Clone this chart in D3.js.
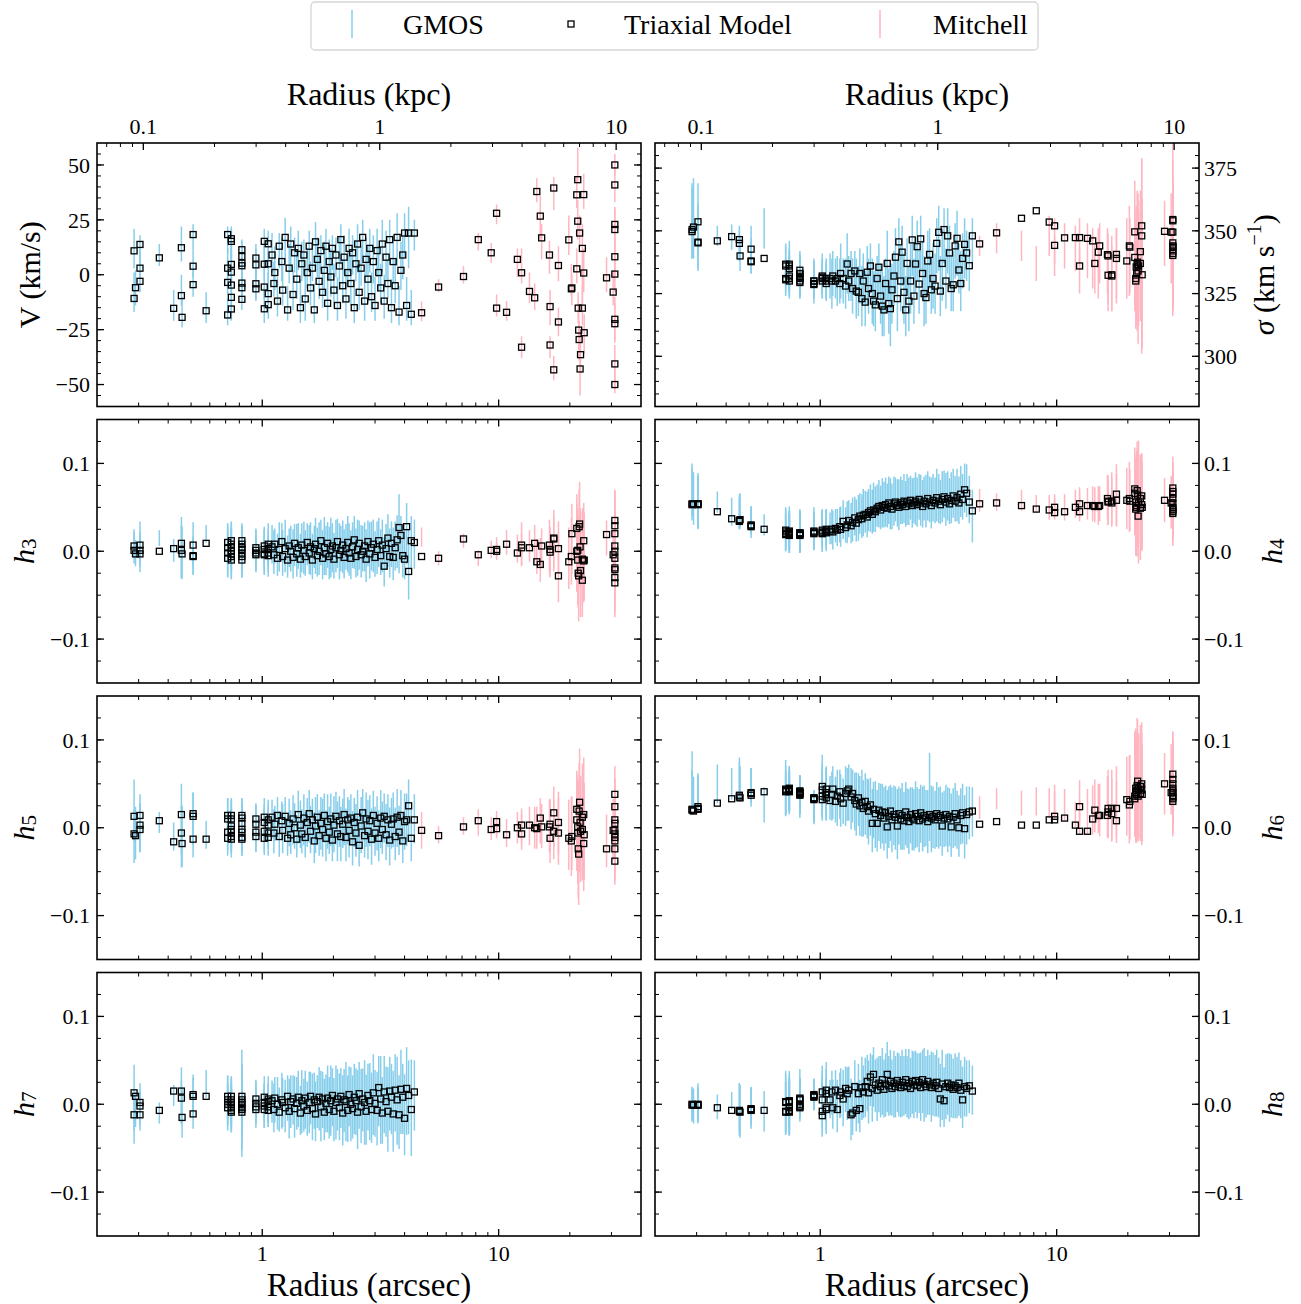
<!DOCTYPE html>
<html>
<head>
<meta charset="utf-8">
<script src="https://cdn.jsdelivr.net/npm/d3@7"></script>
<style>
  body { margin: 0; background: #fff; }
  svg text { font-family: "Liberation Serif", "DejaVu Serif", serif; fill: #000; }
</style>
</head>
<body>
<div id="chart"></div>
<script>
// ---- radii of the bins (arcsec) ----
const gmosR = [0.287,0.287,0.291,0.304,0.304,0.304,0.367,0.422,0.455,0.455,0.458,0.51,0.51,0.51,0.579,0.714,0.714,0.714,0.714,0.74,0.74,0.74,0.74,0.74,0.74,0.74,0.82,0.82,0.82,0.82,0.82,0.82,0.82,0.94,0.94,0.94,0.94,1.02,1.02,1.02,1.02,1.06,1.06,1.06,1.06,
  1.10,1.12,1.13,1.16,1.18,1.21,1.22,1.25,1.28,1.30,1.32,1.35,1.37,1.40,1.42,1.45,1.47,1.50,1.52,1.55,1.58,1.60,1.63,1.66,1.68,1.71,1.74,1.77,1.80,1.83,1.86,1.89,1.92,1.95,1.98,2.01,2.05,2.08,2.12,2.15,2.19,2.22,2.26,2.30,2.33,2.37,2.41,2.45,2.49,2.53,2.57,2.62,2.66,2.71,2.75,2.80,2.85,2.90,2.95,3.00,3.06,3.11,3.17,3.22,3.28,3.34,3.40,3.46,3.52,3.58,3.65,3.72,3.79,3.86,3.93,4.00,4.08,4.16,4.27,4.40];
const mitR = [4.72,5.57,7.1,8.2,9.3,9.8,9.8,10.8,12.0,12.5,12.5,13.5,14.2,14.5,15.0,15.2,16.4,16.5,16.5,17.1,17.1,17.9,17.9,19.8,20.3,20.4,21.4,21.4,21.6,21.6,21.7,21.8,21.9,22.0,22.1,22.2,22.6,22.6,22.9,22.9,23.0,28.6,30.5,31,31,31,31,31,31,31,31,31,31];

// ---- V (km/s) ----
const gmosVmod = [10.9,-10.8,-5.9,13.8,3.0,-3.0,7.7,-15.3,12.3,-9.5,-19.4,18.3,3.9,-4.5,-16.4,18.3,3.0,-3.5,-18.3,16.4,15.2,4.7,1.2,-4.7,-10.3,-15.6,11.4,8.3,5.3,4.1,-3.8,-5.9,-11.2,7.6,4.5,-4.1,-6.4,15.2,4.8,-5.6,-15.5,14.1,5.0,-8.6,-13.6,
  9,-4,1,-12,13,6,-7,17,-16,3, 14,-9,10,-2,12,-15,5,9,-11,1, 13,-6,3,-16,15,7,-3,11,-8,2, 13,-13,6,-1,12,-7,9,-14,4,16, -5,8,-11,1,12,-4,10,-15,5,14, -8,3,17,-12,7,-2,12,-10,6,-14, 11,1,-6,14,-12,8,-4,16,-15,6, -5,17,-17,2,9,19,-14,19,-18,19];
const gmosVobs = [12,-8,-6,11,5,-1,9,-14,14,-7,-17,17,5,-4,-15,16,4,-2,-17,15,14,5,3,-3,-9,-14,10,9,6,3,-2,-6,-10,6,5,-3,-5,13,6,-4,-14,12,4,-7,-12,
  10,-2,3,-10,11,7,-5,15,-13,5, 12,-7,9,0,11,-12,6,8,-9,3, 11,-4,5,-13,13,8,-1,10,-6,3, 12,-11,7,1,10,-5,8,-11,5,14, -3,9,-9,3,11,-2,9,-12,6,12, -6,4,15,-10,8,0,11,-8,7,-11, 10,3,-4,13,-10,9,-2,15,-12,7, -3,16,-14,4,8,18,-11,17,-15,18];
const gmosVerr = [9,9,8,7,7,7,5,7,8,7,7,6,6,6,7,6,8,7,6,7,7,8,8,7,7,7,6,6,7,7,7,6,6,8,7,8,7,8,8,7,8,8,8,8,8,
  9,8,10,9,8,10,9,11,8,9, 10,9,8,11,9,10,9,8,12,9, 9,10,8,9,11,9,10,8,9,12, 9,10,9,11,8,10,9,10,12,9, 10,9,11,8,10,12,9,10,9,11, 10,9,10,11,9,13,10,9,11,10, 11,10,9,12,10,11,9,10,10,11, 10,12,9,11,10,10,10,14,8,7];
const mitVmod = [-17.3,-5.6,-0.8,16,10,28,-15.2,-17.1,7,0.9,-33,-7.6,-10.5,37.9,26.7,16.8,9,-14.5,-32,39.5,-43.3,4.2,-21.5,15.9,-6.4,-6.0,36.4,2.7,43.3,24.4,-15.2,-25.2,-29.5,19,-42.9,-36.4,12,-15.2,36.5,0.8,-26.4,-1.4,-7.9,50,40.9,22.9,20.6,8.2,0.3,-20.3,-22.3,-40.6,-50];
const mitVobs = [-16.7,-5,0,15,10,27.5,-14,-16.5,5.5,4,-33,-6,-10,38.5,26,15,8,-15,-33,37,-42.5,5,-21.5,18,-2.5,-7,37.5,4,50,25,-15,-25,-30,20,-40,-35,4,-14,38,2,-27,0,-6,50,41,22,20,8,2,-20,-22,-42,-48];
const mitVerr = [4.5,3,4,4,4.5,4.5,5,4.5,6.5,8,5,7,6,5.5,10,8,7.5,8,5,7.5,5.5,8,6.5,9,7.5,7,7,8,8,9,7,9,9,7,15,10,19,9,8,10,9,8,8,5,8,9,10,9,10,10,9,10,6];

// ---- sigma (km/s) ----
const gmosSmod = [349.7,350.5,351.5,353.6,345.2,345.5,346,347.7,346.5,345,340,342.7,337.7,338,339,336.7,331,336,330.5,336.7,336,335,332,331,330,331,334.3,332.9,331.5,329.4,330,331,333,330,328.6,329,330,332,331,330,331.5,331,330,331,329,
  331,330,332,330,331,329,333,331,328,336.8, 330,333,327,334,326,325.5,333,323,330,321.6, 333.5,327,336,325,322,320.5,331,335.5,324,320, 318.5,329,337,321,319,326.5,332,339.5,323,345.6, 330,341.5,325.5,318.5,337,322,330,346.4,324,336.8, 343.7,328.8,346.8,333,325,323.4,338,340.6,326.5,331, 328,345,349.4,326,337,350.5,330,348,341.2,327, 328.5,344,347,334.4,329,339,344.6,341.2,336.1,348];
const gmosSobs = [354,353,355,355,348,346,348,347.5,345,344,341,344,340,339,351,336,332,337,331,337,335,334,333,332,330,332,333,332,332,330,331,332,334,331,329,330,331,333,330,331,332,331,330,330,330,
  332,329,333,331,330,330,334,330,329,337, 331,332,328,333,327,326,332,324,331,323, 332,328,335,326,323,322,330,334,325,321, 320,328,336,322,320,325,331,338,324,343, 331,340,327,320,336,323,331,344,326,336, 342,330,345,334,326,325,337,339,328,332, 329,344,347,328,336,348,331,346,340,329, 330,342,345,335,330,338,343,340,337,346];
const gmosSerr = [15,14,16,14,13,12,4,5,7,6,7,8,7,6,8,8,7,8,7,9,8,8,7,8,7,8,8,7,8,7,8,7,8,7,8,7,8,8,7,8,7,8,7,8,7,
  9,10,9,8,10,9,11,9,10,12, 9,10,11,9,12,10,11,12,10,11, 12,11,10,13,11,12,10,11,12,13, 12,11,14,13,16,12,11,13,14,12, 13,12,14,12,11,13,14,12,13,11, 12,13,11,12,14,12,13,12,11,13, 12,11,13,12,14,11,12,13,12,11, 12,11,13,10,12,11,12,10,11,9];
const mitSmod = [344.8,349.2,355,358,353.5,352,344.2,347.2,347.3,347.3,336,347,346,337,341.5,344,340.5,340,332.3,332.5,332,340.6,339,338,344,343.5,349.6,339.4,331,330,335.6,333,336.5,337.5,334,336,341.7,337,352,348,332.5,349.8,349.5,354,354.5,349.5,345.2,343.5,344,342,340.2,341,343.5];
const mitSobs = [344,347,344,337,348,346,340,344,343,345,334,342,339,335,337,341,338,335,330,333,331,336,337,339,342,340,345,338,333,331,336,334,338,336,335,337,340,338,345,340,333,349,347,352,348,345,343,341,344,340,342,339,348];
const mitSerr = [4,6,6,7,8,9,8,9,9,10,9,11,12,10,14,12,13,14,12,15,13,15,14,16,18,15,25,20,22,18,24,20,28,22,30,25,26,20,33,39,30,13,18,33,20,25,18,22,28,20,24,19,30];

// ---- h3 ----
const gmosH3mod = [.006,.001,-.003,.007,.001,-.003,0,.003,.009,.001,-.003,.007,-.005,-.006,.009,.01,.004,-.002,-.008,.012,.008,.004,0,-.003,-.006,-.01,.012,.008,.004,.002,-.002,-.006,-.01,.004,.001,-.002,-.004,.006,.002,-.003,-.004,.008,.003,-.002,-.005,
  .005,-.004,.008,-.008,.002,.011,-.006,.003,-.01,.006, 0,-.007,.009,-.003,.004,-.009,.007,.001,-.006,.01, -.002,.005,-.01,.003,.008,-.005,0,.012,-.008,.004, -.003,.009,-.006,.002,.006,-.009,.004,.011,-.004,.001, .007,-.007,.003,.01,-.002,-.008,.005,.013,-.006,.002, .009,-.004,0,.006,-.009,.011,-.003,.004,.008,-.007, .002,.012,-.005,.007,-.017,.003,.015,-.006,.009,-.007, .004,.013,.027,.018,-.005,-.009,.028,-.023,.012,.01];
const gmosH3obs = [.01,.004,-.002,.012,.002,-.004,.015,.001,.004,0,-.002,.008,-.005,-.006,.02,.012,.006,-.003,-.01,.014,.01,.006,.002,-.002,-.008,-.012,.014,.01,.006,.003,-.004,-.008,-.012,.006,.002,-.003,-.006,.008,.004,-.002,-.006,.01,.005,-.003,-.007,
  .008,-.001,.006,-.004,.005,.01,-.002,.006,-.006,.004, .003,-.003,.007,.001,.006,-.005,.004,.004,-.002,.008, .002,.003,-.006,.005,.006,-.001,.003,.01,-.004,.006, .001,.007,-.002,.004,.004,-.005,.006,.009,0,.003, .005,-.003,.005,.008,.002,-.004,.007,.01,-.002,.004, .007,0,.003,.005,-.005,.009,.001,.006,.006,-.003, .004,.01,-.001,.006,-.012,.005,.012,-.002,.008,-.003, .006,.011,.02,.014,0,-.004,.02,-.015,.01,.008];
const gmosH3err = [.015,.018,.015,.022,.02,.02,.009,.013,.035,.03,.03,.025,.022,.02,.01,.02,.022,.025,.02,.02,.022,.02,.025,.02,.022,.02,.018,.02,.022,.02,.02,.022,.018,.02,.022,.02,.018,.02,.022,.025,.02,.022,.02,.02,.022,
  .022,.025,.02,.024,.028,.022,.026,.03,.024,.022, .026,.028,.024,.03,.026,.025,.028,.03,.026,.024, .028,.03,.026,.024,.032,.028,.03,.026,.028,.033, .028,.026,.03,.034,.028,.026,.03,.028,.032,.026, .03,.028,.026,.032,.03,.028,.026,.03,.028,.032, .028,.03,.026,.028,.03,.026,.032,.028,.03,.026, .03,.028,.026,.03,.028,.026,.03,.028,.026,.03, .028,.03,.045,.026,.03,.028,.035,.04,.03,.028];
const mitH3mod = [-.006,-.008,.014,-.004,.001,0,.002,.008,-.002,.007,.004,.004,.009,-.012,-.015,.006,.007,.002,-.001,.014,.015,-.028,.003,-.012,-.006,.02,.026,0,.001,-.01,-.025,-.028,.028,.031,.005,-.022,-.033,-.009,-.011,.012,-.01,.019,-.004,.035,.029,.02,.006,0,-.008,-.019,-.021,-.03,-.036];
const mitH3obs = [.016,-.008,.012,-.008,.002,.004,0,.01,.003,.008,.002,.006,.008,-.006,-.01,.004,.006,0,-.004,.012,.01,-.018,.004,-.008,0,.014,.02,.004,0,-.006,-.015,-.02,.02,.024,.004,-.015,-.025,-.006,-.008,.01,-.006,.015,-.002,.03,.024,.016,.006,0,-.006,-.016,-.018,-.025,-.03];
const mitH3err = [.011,.008,.008,.009,.01,.012,.01,.014,.016,.025,.018,.018,.022,.02,.025,.022,.03,.028,.026,.035,.03,.04,.03,.035,.038,.04,.045,.05,.04,.055,.05,.06,.05,.055,.045,.06,.05,.055,.05,.045,.05,.02,.025,.04,.045,.05,.04,.045,.05,.04,.045,.05,.04];

// ---- h4 ----
const gmosH4mod = [.054,.053,.054,.054,.053,.054,.045,.037,.035,.034,.036,.029,.028,.03,.025,.024,.022,.02,.019,.023,.021,.02,.019,.018,.02,.022,.021,.02,.019,.018,.02,.021,.019,.022,.021,.023,.02,.022,.021,.024,.02,.023,.021,.022,.025,
  .023,.025,.022,.026,.024,.028,.025,.034,.027,.03, .035,.029,.033,.038,.032,.036,.04,.037,.041,.042, .039,.044,.046,.042,.047,.045,.049,.051,.047,.052, .05,.053,.049,.055,.051,.048,.054,.056,.052,.05, .055,.053,.057,.051,.056,.054,.058,.052,.055,.057, .053,.059,.055,.051,.057,.054,.06,.056,.052,.058, .055,.061,.057,.053,.059,.062,.056,.06,.054,.058, .063,.057,.061,.055,.065,.059,.07,.066,.056,.046];
const gmosH4obs = [.07,.065,.06,.058,.056,.055,.056,.045,.045,.043,.046,.035,.033,.036,.03,.028,.025,.022,.02,.026,.024,.022,.021,.02,.022,.025,.024,.022,.021,.02,.023,.024,.022,.025,.023,.026,.022,.026,.023,.027,.022,.026,.024,.025,.028,
  .026,.028,.024,.029,.027,.03,.028,.036,.03,.033, .037,.032,.036,.04,.035,.038,.043,.04,.044,.045, .042,.047,.049,.045,.05,.048,.052,.054,.05,.055, .053,.056,.052,.058,.054,.051,.057,.059,.055,.053, .058,.056,.06,.054,.059,.057,.061,.055,.058,.06, .056,.062,.058,.054,.06,.057,.063,.059,.055,.061, .058,.064,.06,.056,.062,.065,.059,.063,.057,.061, .066,.06,.064,.058,.068,.062,.072,.069,.059,.04];
const gmosH4err = [.03,.03,.03,.031,.03,.03,.012,.016,.02,.018,.02,.016,.018,.015,.012,.022,.024,.022,.02,.025,.022,.024,.02,.022,.024,.02,.022,.024,.02,.022,.02,.024,.022,.02,.022,.024,.02,.022,.024,.02,.022,.02,.024,.022,.02,
  .018,.02,.022,.019,.021,.02,.023,.022,.02,.024, .021,.023,.025,.022,.024,.026,.023,.025,.027,.024, .026,.024,.027,.025,.028,.026,.024,.027,.025,.028, .026,.028,.025,.027,.029,.026,.028,.025,.027,.029, .027,.025,.028,.026,.029,.027,.025,.028,.026,.03, .028,.026,.029,.027,.025,.03,.028,.026,.029,.027, .026,.03,.028,.025,.029,.027,.03,.028,.026,.029, .028,.026,.03,.027,.029,.026,.028,.03,.027,.03];
const mitH4mod = [.054,.055,.052,.048,.047,.05,.044,.045,.05,.054,.045,.052,.052,.051,.051,.052,.06,.057,.056,.057,.055,.065,.058,.058,.06,.057,.066,.071,.056,.048,.05,.052,.069,.064,.04,.055,.06,.049,.063,.053,.05,.058,.055,.072,.068,.065,.06,.055,.05,.047,.045,.043,.048];
const mitH4obs = [.058,.056,.058,.054,.05,.052,.048,.05,.054,.055,.05,.054,.054,.053,.052,.054,.062,.058,.056,.06,.056,.064,.058,.06,.062,.058,.066,.068,.058,.05,.052,.054,.065,.062,.045,.056,.06,.05,.062,.055,.052,.058,.056,.068,.064,.062,.058,.055,.052,.05,.048,.046,.05];
const mitH4err = [.013,.01,.012,.01,.014,.013,.012,.015,.016,.018,.016,.018,.02,.02,.022,.02,.025,.028,.026,.03,.028,.035,.03,.035,.04,.035,.045,.05,.04,.055,.05,.06,.06,.055,.05,.07,.05,.06,.05,.055,.05,.025,.03,.04,.035,.04,.035,.04,.035,.04,.035,.04,.035];

// ---- h5 ----
const gmosH5mod = [.013,-.007,-.009,.014,.003,-.002,.008,-.016,.015,-.006,-.018,.016,.013,-.013,-.013,.014,.01,-.005,-.012,.014,.01,.002,-.002,-.005,-.01,-.013,.014,.011,.005,-.002,-.005,-.011,-.013,.01,.004,-.005,-.01,.012,.006,-.004,-.012,.009,.003,-.006,-.011,
  .012,-.006,.004,.014,-.01,.008,-.003,.013,-.012,.005, -.008,.01,0,-.013,.015,.003,-.007,.011,-.011,.006, .016,-.004,.009,-.015,.002,.012,-.009,.005,-.002,.014, -.012,.007,-.005,.01,-.014,.003,.013,-.007,.008,-.01, .004,.015,-.011,.009,-.003,.011,-.016,.006,-.006,.012, -.02,.002,.017,-.009,.01,-.004,.008,-.013,.014,-.006, .005,-.012,.011,-.002,.013,-.008,.009,-.014,.004,.01, -.01,.012,-.005,.014,-.015,.007,.009,.025,-.012,.009];
const gmosH5obs = [.02,-.01,-.006,.008,0,0,.006,-.01,.01,-.01,-.01,.012,.01,-.008,-.008,.012,.008,-.003,-.008,.012,.008,.004,0,-.004,-.007,-.01,.012,.009,.006,0,-.004,-.008,-.01,.008,.004,-.003,-.008,.01,.005,-.003,-.009,.008,.004,-.004,-.008,
  .01,-.004,.005,.011,-.007,.008,-.001,.01,-.009,.006, -.005,.009,.002,-.01,.012,.004,-.004,.009,-.008,.006, .013,-.002,.008,-.011,.003,.01,-.006,.005,0,.011, -.009,.007,-.003,.009,-.01,.004,.011,-.004,.007,-.007, .005,.012,-.008,.008,-.001,.009,-.012,.006,-.003,.01, -.015,.003,.014,-.006,.009,-.002,.008,-.01,.012,-.004, .005,-.009,.01,0,.011,-.005,.008,-.01,.005,.009, -.007,.011,-.003,.012,-.011,.007,.009,.02,-.008,.01];
const gmosH5err = [.035,.03,.03,.03,.028,.028,.012,.016,.04,.035,.035,.028,.03,.026,.016,.022,.025,.022,.024,.022,.024,.026,.022,.025,.022,.024,.022,.024,.022,.025,.022,.024,.022,.02,.022,.024,.02,.024,.022,.025,.022,.024,.022,.02,.024,
  .022,.025,.02,.024,.026,.022,.028,.025,.023,.027, .025,.028,.026,.024,.03,.027,.025,.029,.026,.028, .03,.027,.025,.029,.032,.028,.026,.03,.033,.028, .029,.031,.027,.03,.028,.032,.03,.034,.029,.031, .028,.032,.03,.027,.033,.029,.031,.028,.03,.033, .029,.032,.03,.028,.031,.034,.029,.032,.03,.028, .031,.029,.033,.03,.028,.032,.03,.033,.029,.031, .03,.033,.028,.031,.029,.032,.03,.035,.03,.028];
const mitH5mod = [-.003,-.009,.001,.008,-.002,-.001,.007,-.008,0,.003,-.007,.003,0,-.001,.011,.001,.001,-.012,.004,.017,-.004,-.006,.006,-.012,-.015,-.01,.021,.009,.001,-.006,-.024,-.03,.019,.029,.006,-.004,.012,-.002,.015,-.018,-.008,-.024,-.003,.038,.024,.009,.005,-.003,-.007,-.011,-.015,-.024,-.038];
const mitH5obs = [-.003,-.008,.002,.006,-.001,0,.005,-.006,0,.002,-.005,.002,0,0,.008,.002,.002,-.008,.003,.012,-.002,-.004,.005,-.008,-.01,-.006,.015,.006,0,-.004,-.015,-.018,.014,.02,.004,-.002,.008,0,.01,-.012,-.004,-.015,-.002,.025,.016,.006,.003,-.002,-.004,-.007,-.01,-.016,-.025];
const mitH5err = [.021,.01,.01,.015,.013,.012,.014,.016,.018,.02,.02,.022,.024,.024,.026,.025,.03,.032,.03,.035,.034,.038,.036,.04,.045,.042,.05,.055,.05,.06,.065,.07,.06,.07,.055,.06,.065,.06,.07,.06,.055,.03,.035,.045,.04,.05,.045,.04,.045,.05,.04,.045,.04];

// ---- h6 ----
const gmosH6mod = [.02,.021,.019,.024,.022,.021,.028,.033,.035,.037,.034,.039,.04,.037,.041,.043,.044,.042,.041,.043,.045,.042,.041,.044,.043,.042,.04,.042,.039,.037,.041,.04,.038,.033,.034,.032,.034,.047,.043,.032,.036,.044,.038,.034,.04,
  .031,.038,.044,.03,.036,.041,.033,.028,.039,.042, .044,.035,.039,.031,.027,.034,.025,.029,.022,.03, .024,.019,.026,.005,.021,.016,.005,.02,.014,.018, .011,.017,.001,.013,.019,.009,.015,.012,.002,.016, .01,.014,.008,.018,.012,.007,.015,.011,.009,.016, .013,.008,.017,.01,.014,.012,.007,.015,.011,.013, .009,.016,.012,.014,.002,.011,.015,.01,.013,.001, .012,.016,.009,0,.014,.017,-.001,.015,.018,.019];
const gmosH6obs = [.054,.045,.04,.042,.04,.038,.05,.05,.055,.052,.05,.048,.046,.05,.026,.045,.042,.04,.038,.046,.044,.042,.04,.038,.043,.041,.04,.038,.036,.035,.038,.037,.036,.022,.025,.02,.024,.048,.045,.036,.04,.042,.038,.035,.04,
  .034,.036,.04,.032,.034,.038,.031,.03,.036,.038, .04,.033,.036,.03,.027,.032,.025,.028,.022,.027, .022,.018,.024,.008,.02,.015,.008,.018,.013,.016, .01,.015,.004,.012,.017,.009,.014,.011,.004,.014, .01,.013,.008,.016,.011,.007,.014,.01,.009,.015, .012,.008,.016,.01,.013,.011,.007,.035,.01,.012, .009,.015,.011,.013,.004,.01,.014,.009,.012,.003, .011,.015,.009,.002,.013,.016,.001,.014,.017,.018];
const gmosH6err = [.033,.02,.018,.02,.02,.018,.022,.018,.025,.022,.02,.02,.022,.018,.02,.032,.028,.025,.022,.024,.026,.022,.025,.02,.024,.022,.02,.022,.02,.024,.02,.022,.02,.015,.018,.016,.018,.035,.03,.028,.03,.028,.03,.026,.028,
  .025,.028,.03,.026,.032,.028,.03,.026,.034,.03, .032,.035,.03,.033,.036,.03,.034,.038,.032,.035, .034,.037,.033,.036,.032,.038,.035,.033,.037,.034, .036,.033,.039,.035,.032,.037,.034,.036,.04,.033, .035,.038,.033,.036,.034,.037,.032,.036,.035,.038, .034,.036,.033,.037,.035,.032,.036,.05,.038,.035, .033,.037,.035,.034,.036,.032,.035,.037,.033,.036, .034,.036,.033,.035,.032,.034,.036,.033,.03,.028];
const mitH6mod = [.004,.007,.003,.003,.009,.013,.009,.011,.003,.024,-.004,-.004,.01,.02,.014,.014,.014,.022,.018,.016,.022,.008,.022,.032,.026,.03,.033,.036,.04,.045,.038,.042,.048,.053,.036,.044,.047,.039,.05,.043,.038,.05,.04,.061,.05,.042,.036,.033,.03,.04,.045,.055,.035];
const mitH6obs = [.023,.033,.028,.03,.028,.03,.025,.026,.015,.03,.012,.018,.02,.025,.022,.02,.024,.028,.022,.02,.026,.018,.03,.036,.032,.035,.045,.05,.048,.05,.042,.045,.055,.058,.04,.048,.052,.045,.05,.046,.04,.05,.055,.06,.055,.05,.045,.04,.038,.045,.05,.058,.045];
const mitH6err = [.013,.012,.014,.016,.017,.019,.016,.018,.014,.024,.02,.026,.028,.03,.028,.03,.035,.038,.034,.036,.04,.035,.04,.045,.05,.048,.055,.06,.065,.06,.058,.062,.07,.065,.055,.06,.065,.06,.07,.062,.055,.035,.04,.05,.045,.05,.045,.05,.045,.05,.045,.05,.045];

// ---- h7 (GMOS only) ----
const gmosH7mod = [.013,-.012,.009,.002,-.002,-.012,-.007,.015,.015,.007,-.015,.011,.009,-.011,.009,.009,.005,0,-.004,.009,.005,.002,0,-.004,-.007,-.009,.009,.005,.002,0,-.004,-.006,-.009,.006,.001,-.003,-.006,.008,.002,-.002,-.006,.006,.003,-.003,-.007,
  .004,-.006,.007,0,-.009,.005,.002,-.004,.009,-.008, .003,.006,-.005,.001,.008,-.01,.004,-.002,.007,-.007, .002,.009,-.005,.005,-.011,.003,.008,-.003,.006,-.009, .001,.007,-.006,.004,.01,-.008,.002,.006,-.004,.009, -.01,.005,.003,-.007,.011,0,-.005,.008,.004,-.009, .012,-.003,.006,.002,-.008,.01,.004,-.006,.013,.001, -.007,.019,.006,-.01,.014,.003,-.008,.015,.008,-.011, .016,.005,-.012,.017,.008,-.016,.018,.01,-.006,.014];
const gmosH7obs = [0,-.01,-.006,.004,-.004,-.008,-.01,.01,.01,.002,-.01,.014,.008,-.008,.023,.008,.004,0,-.004,.008,.004,.002,0,-.003,-.006,-.008,.012,.006,0,-.004,-.006,-.01,-.012,.006,.002,-.002,-.005,.008,.002,-.002,-.005,.006,.002,-.002,-.006,
  .003,-.004,.005,.001,-.006,.004,.002,-.002,.007,-.005, .003,.005,-.003,.001,.006,-.007,.003,-.001,.005,-.005, .002,.007,-.003,.004,-.008,.003,.006,-.002,.005,-.006, .001,.006,-.004,.004,.008,-.006,.002,.005,-.003,.007, -.007,.004,.003,-.005,.009,0,-.003,.006,.003,-.006, .01,-.002,.005,.002,-.006,.008,.003,-.004,.011,.001, -.005,.015,.005,-.007,.011,.003,-.006,.012,.006,-.008, .013,.004,-.009,.014,.006,-.012,.015,.008,-.004,.01];
const gmosH7err = [.045,.02,.02,.02,.02,.022,.012,.012,.032,.025,.028,.02,.022,.02,.016,.025,.028,.024,.026,.024,.026,.022,.028,.024,.026,.024,.05,.04,.028,.03,.026,.05,.04,.022,.024,.02,.022,.024,.022,.025,.022,.026,.022,.024,.02,
  .024,.028,.026,.03,.025,.032,.028,.03,.026,.034, .03,.028,.035,.03,.032,.028,.036,.03,.033,.031, .035,.03,.038,.032,.034,.03,.036,.04,.032,.035, .033,.038,.035,.04,.033,.036,.042,.035,.038,.034, .04,.036,.045,.038,.034,.042,.036,.04,.038,.045, .038,.042,.036,.048,.04,.038,.044,.04,.046,.038, .042,.04,.05,.038,.044,.04,.048,.042,.04,.046, .044,.05,.042,.048,.04,.046,.05,.042,.055,.04];

// ---- h8 (GMOS only) ----
const gmosH8mod = [-.001,0,-.001,0,-.001,-.001,-.004,-.007,-.008,-.007,-.009,-.006,-.007,-.005,-.007,.003,-.008,.002,-.009,.003,.004,-.008,-.009,.002,-.007,-.004,.006,-.004,.007,.005,-.003,0,-.002,.011,.008,.01,.009,-.008,-.013,.014,.005,-.004,.016,-.006,.012,
  .005,.014,-.004,.016,-.006,.01,.014,.006,.018,.012, .016,-.012,-.01,.02,-.007,.012,-.005,.019,.014,.02, .026,.013,.031,.018,.034,.022,.016,.024,.02,.028, .017,.023,.034,.021,.026,.018,.024,.02,.027,.022, .019,.025,.021,.028,.02,.024,.018,.026,.022,.027, .021,.025,.019,.028,.023,.02,.026,.022,.019,.024, .021,.025,.018,.006,.023,.004,.02,.024,.019,.022, .017,.021,.019,.024,.016,.005,.02,.018,.021,.015];
const gmosH8obs = [0,0,-.002,.002,0,-.002,-.003,.004,-.006,-.004,-.008,-.003,-.004,-.002,-.008,.003,-.004,.002,-.005,.004,.004,-.004,-.005,.002,-.004,-.002,.016,.008,.01,.008,.004,.006,.005,.012,.01,.011,.01,-.002,-.005,.014,.006,0,.014,-.002,.01,
  .006,.013,0,.015,-.002,.01,.013,.007,.017,.012, .015,-.006,-.005,.018,-.003,.012,-.002,.018,.014,.019, .024,.014,.028,.018,.031,.021,.017,.023,.02,.026, .018,.022,.031,.021,.025,.019,.023,.02,.025,.022, .02,.024,.021,.026,.02,.023,.019,.025,.022,.026, .021,.024,.02,.026,.022,.02,.025,.022,.02,.023, .021,.024,.019,.01,.022,.008,.02,.023,.019,.021, .018,.021,.019,.023,.017,.008,.02,.018,.02,.016];
const gmosH8err = [.02,.018,.02,.022,.02,.02,.014,.01,.03,.028,.03,.022,.024,.02,.023,.035,.03,.032,.03,.034,.03,.032,.03,.028,.03,.032,.024,.022,.02,.022,.024,.02,.022,.017,.016,.018,.016,.035,.03,.03,.032,.03,.034,.032,.03,
  .022,.025,.028,.024,.03,.026,.028,.032,.026,.03, .028,.035,.03,.032,.028,.034,.03,.036,.03,.034, .032,.036,.03,.038,.034,.03,.036,.032,.035,.038, .033,.036,.04,.034,.037,.032,.038,.035,.034,.036, .035,.038,.034,.037,.035,.04,.034,.036,.038,.035, .037,.034,.039,.036,.042,.035,.037,.034,.04,.036, .035,.038,.034,.036,.04,.034,.037,.035,.039,.036, .034,.037,.035,.036,.033,.035,.034,.032,.03,.028];

// ---- axes ticks ----
const arcMajor = [1, 10];
const arcMinor = [0.3,0.4,0.5,0.6,0.7,0.8,0.9,2,3,4,5,6,7,8,9,20,30];
const kpcMajor = [0.1, 1, 10];
const kpcMinor = [0.07,0.08,0.09,0.2,0.3,0.4,0.5,0.6,0.7,0.8,0.9,2,3,4,5,6,7,8,9];
const arcsecPerKpc = 3.14;

// ---- layout ----
const width = 1301, height = 1304;
const colX = [97, 655], rowY = [143, 419.5, 696, 972.5];
const pw = 544, ph = 263.5;
const blue = "#87ceeb", pink = "#ffb6c1";

const svg = d3.select("#chart").append("svg")
    .attr("width", width)
    .attr("height", height);

const x = d3.scaleLog().domain([0.2, 40]).range([0, pw]);
const xk = d3.scaleLog().domain([0.2 / arcsecPerKpc, 40 / arcsecPerKpc]).range([0, pw]);

const hDom = [-0.15, 0.15], hMajor = [-0.1, 0, 0.1];
const fmtH = d => d3.format(".1f")(d).replace("-", "\u2212");
const fmtI = d => d3.format("d")(d).replace("-", "\u2212");

const panels = [
  {col:0, row:0, lab:"V", gm:[gmosVmod,gmosVobs,gmosVerr], mi:[mitVmod,mitVobs,mitVerr], dom:[-60,60], major:[-50,-25,0,25,50], step:5, fmt:fmtI},
  {col:1, row:0, lab:"sigma", gm:[gmosSmod,gmosSobs,gmosSerr], mi:[mitSmod,mitSobs,mitSerr], dom:[280,385], major:[300,325,350,375], step:5, fmt:fmtI},
  {col:0, row:1, lab:"3", gm:[gmosH3mod,gmosH3obs,gmosH3err], mi:[mitH3mod,mitH3obs,mitH3err], dom:hDom, major:hMajor, step:0.025, fmt:fmtH},
  {col:1, row:1, lab:"4", gm:[gmosH4mod,gmosH4obs,gmosH4err], mi:[mitH4mod,mitH4obs,mitH4err], dom:hDom, major:hMajor, step:0.025, fmt:fmtH},
  {col:0, row:2, lab:"5", gm:[gmosH5mod,gmosH5obs,gmosH5err], mi:[mitH5mod,mitH5obs,mitH5err], dom:hDom, major:hMajor, step:0.025, fmt:fmtH},
  {col:1, row:2, lab:"6", gm:[gmosH6mod,gmosH6obs,gmosH6err], mi:[mitH6mod,mitH6obs,mitH6err], dom:hDom, major:hMajor, step:0.025, fmt:fmtH},
  {col:0, row:3, lab:"7", gm:[gmosH7mod,gmosH7obs,gmosH7err], mi:null, dom:hDom, major:hMajor, step:0.025, fmt:fmtH},
  {col:1, row:3, lab:"8", gm:[gmosH8mod,gmosH8obs,gmosH8err], mi:null, dom:hDom, major:hMajor, step:0.025, fmt:fmtH}
];

// quick sanity check on array lengths
const bad = [];
panels.forEach(p => {
  p.gm.forEach((a, k) => { if (a.length !== gmosR.length) bad.push(p.lab + " gm" + k + ":" + a.length); });
  if (p.mi) p.mi.forEach((a, k) => { if (a.length !== mitR.length) bad.push(p.lab + " mi" + k + ":" + a.length); });
});

function rows(R, arrs) {
  return R.map((r, i) => ({r: r, m: arrs[0][i], o: arrs[1][i], e: arrs[2][i]}));
}

panels.forEach((p, pi) => {
  const g = svg.append("g").attr("transform", `translate(${colX[p.col]},${rowY[p.row]})`);
  const y = d3.scaleLinear().domain(p.dom).range([ph, 0]);

  svg.append("clipPath").attr("id", "clip" + pi)
    .append("rect").attr("width", pw).attr("height", ph);
  const plot = g.append("g").attr("clip-path", `url(#clip${pi})`);

  const gd = rows(gmosR, p.gm);
  const md = p.mi ? rows(mitR, p.mi) : [];

  // error bars (data), no markers
  plot.append("g").selectAll("line")
    .data(gd)
    .join("line")
      .attr("x1", d => x(d.r)).attr("x2", d => x(d.r))
      .attr("y1", d => y(d.o - d.e)).attr("y2", d => y(d.o + d.e))
      .attr("stroke", blue).attr("stroke-width", 1.5);
  plot.append("g").selectAll("line")
    .data(md)
    .join("line")
      .attr("x1", d => x(d.r)).attr("x2", d => x(d.r))
      .attr("y1", d => y(d.o - d.e)).attr("y2", d => y(d.o + d.e))
      .attr("stroke", pink).attr("stroke-width", 1.5);

  // model squares
  plot.append("g").selectAll("rect")
    .data(gd.concat(md))
    .join("rect")
      .attr("x", d => x(d.r) - 3).attr("y", d => y(d.m) - 3)
      .attr("width", 6).attr("height", 6)
      .attr("fill", "none").attr("stroke", "#000").attr("stroke-width", 1.3);

  // ticks
  const tk = g.append("g").attr("stroke", "#000");
  const tick = (x1, y1, x2, y2, w) => tk.append("line")
      .attr("x1", x1).attr("y1", y1).attr("x2", x2).attr("y2", y2).attr("stroke-width", w);

  arcMajor.forEach(v => tick(x(v), ph, x(v), ph - 7, 1.3));
  arcMinor.forEach(v => tick(x(v), ph, x(v), ph - 4, 1));
  if (p.row === 0) {
    kpcMajor.forEach(v => tick(xk(v), 0, xk(v), 7, 1.3));
    kpcMinor.forEach(v => tick(xk(v), 0, xk(v), 4, 1));
  } else {
    arcMajor.forEach(v => tick(x(v), 0, x(v), 7, 1.3));
    arcMinor.forEach(v => tick(x(v), 0, x(v), 4, 1));
  }
  const minors = d3.range(p.dom[0], p.dom[1] + 1e-9, p.step)
    .filter(v => v > p.dom[0] + 1e-9 && v < p.dom[1] - 1e-9);
  minors.forEach(v => { tick(0, y(v), 4, y(v), 1); tick(pw, y(v), pw - 4, y(v), 1); });
  p.major.forEach(v => { tick(0, y(v), 7, y(v), 1.3); tick(pw, y(v), pw - 7, y(v), 1.3); });

  // frame
  g.append("rect").attr("width", pw).attr("height", ph)
    .attr("fill", "none").attr("stroke", "#000").attr("stroke-width", 1.6);

  // y tick labels
  g.append("g").selectAll("text")
    .data(p.major)
    .join("text")
      .attr("x", p.col === 0 ? -7 : pw + 5)
      .attr("y", d => y(d))
      .attr("dy", "0.35em")
      .attr("text-anchor", p.col === 0 ? "end" : "start")
      .attr("font-size", 22)
      .text(p.fmt);

  // x tick labels
  if (p.row === 3) {
    g.append("g").selectAll("text").data(arcMajor).join("text")
      .attr("x", d => x(d)).attr("y", ph + 25)
      .attr("text-anchor", "middle").attr("font-size", 22)
      .text(d => d);
    g.append("text").attr("x", pw / 2).attr("y", ph + 60)
      .attr("text-anchor", "middle").attr("font-size", 33)
      .text("Radius (arcsec)");
  }
  if (p.row === 0) {
    g.append("g").selectAll("text").data(kpcMajor).join("text")
      .attr("x", d => xk(d)).attr("y", -9)
      .attr("text-anchor", "middle").attr("font-size", 22)
      .text(d => d);
    g.append("text").attr("x", pw / 2).attr("y", -38)
      .attr("text-anchor", "middle").attr("font-size", 32)
      .text("Radius (kpc)");
  }

  // y axis label
  const lx = p.col === 0 ? (p.lab === "V" ? -68 : -74) : pw + (p.lab === "sigma" ? 64 : 72);
  const yl = g.append("text")
    .attr("transform", `translate(${lx},${ph / 2}) rotate(-90)`)
    .attr("text-anchor", "middle")
    .attr("dominant-baseline", "central")
    .attr("font-size", 30);
  if (p.lab === "V") {
    yl.text("V (km/s)");
  } else if (p.lab === "sigma") {
    yl.append("tspan").attr("font-style", "italic").text("\u03c3");
    yl.append("tspan").text(" (km s");
    yl.append("tspan").attr("font-size", 20).attr("dy", "-0.45em").text("\u22121");
    yl.append("tspan").attr("dy", "0.3em").text(")");
  } else {
    yl.append("tspan").attr("font-style", "italic").text("h");
    yl.append("tspan").attr("font-size", 21).attr("dy", "0.3em").text(p.lab);
  }
});

// ---- legend ----
const lg = svg.append("g");
lg.append("rect").attr("x", 311).attr("y", 2).attr("width", 727).attr("height", 48)
  .attr("rx", 4).attr("fill", "#fff").attr("stroke", "#d6d6d6").attr("stroke-width", 1.3);
lg.append("line").attr("x1", 352).attr("x2", 352).attr("y1", 10).attr("y2", 38)
  .attr("stroke", blue).attr("stroke-width", 1.5);
lg.append("text").attr("x", 403).attr("y", 34).attr("font-size", 28).text("GMOS");
lg.append("rect").attr("x", 568).attr("y", 21).attr("width", 6).attr("height", 6)
  .attr("fill", "none").attr("stroke", "#000").attr("stroke-width", 1.3);
lg.append("text").attr("x", 624).attr("y", 34).attr("font-size", 28).text("Triaxial Model");
lg.append("line").attr("x1", 880).attr("x2", 880).attr("y1", 10).attr("y2", 38)
  .attr("stroke", pink).attr("stroke-width", 1.5);
lg.append("text").attr("x", 933).attr("y", 34).attr("font-size", 28).text("Mitchell");

if (bad.length) {
  svg.append("text").attr("x", 10).attr("y", 1300).attr("fill", "red").attr("font-size", 14)
    .style("fill", "red").text("LENGTH MISMATCH: " + bad.join(", "));
}
</script>
</body>
</html>
